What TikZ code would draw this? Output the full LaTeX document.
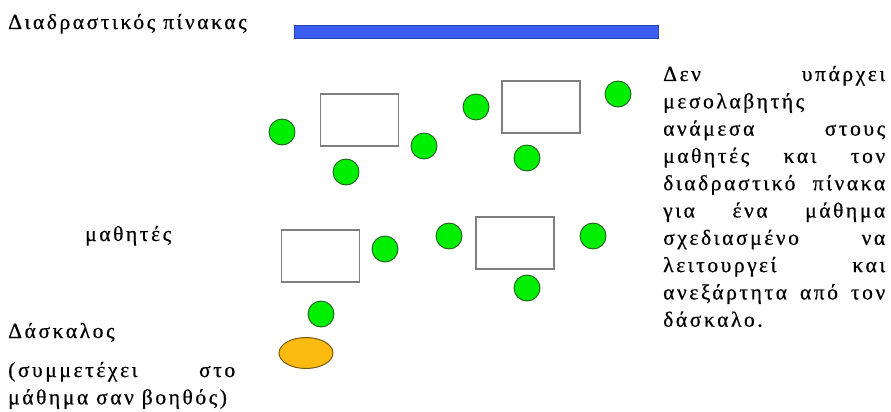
\documentclass[tikz,border=0pt]{standalone}
\usepackage{fontspec}
\setmainfont{Liberation Serif}[LetterSpace=12,FakeBold=0.6]
\usetikzlibrary{shapes.geometric}
\definecolor{CRBoard}{HTML}{3C5CF0}
\definecolor{CRBoardEdge}{HTML}{2A42B0}
\definecolor{CRPupil}{HTML}{00EE00}
\definecolor{CRPupilEdge}{HTML}{1F5F1F}
\definecolor{CRTeacher}{HTML}{FBBA10}
\definecolor{CRTeacherEdge}{HTML}{7A5A10}
\definecolor{CRDesk}{HTML}{7F7F7F}
\definecolor{CRInk}{HTML}{000000}
\tikzset{
  pupil/.style={circle,draw=CRPupilEdge,line width=0.9pt,fill=CRPupil,
                minimum size=26pt,inner sep=0pt},
  desk/.style={draw=CRDesk,line width=1.4pt,fill=white,minimum width=78pt,
               minimum height=52pt,inner sep=0pt},
  teacher/.style={ellipse,draw=CRTeacherEdge,line width=1.0pt,fill=CRTeacher,
                  minimum width=54pt,minimum height=31pt,inner sep=0pt},
  board/.style={draw=CRBoardEdge,line width=0.8pt,fill=CRBoard,
                minimum width=364pt,minimum height=13pt,inner sep=0pt},
  caption/.style={text=CRInk,font=\fontsize{21.5}{27.3}\selectfont,
                  inner sep=0pt,anchor=base west},
}

\begin{document}
\begin{tikzpicture}[x=1pt,y=-1pt]
    \useasboundingbox (0,0) rectangle (891,412);
    % whiteboard
    \node[board] (wb) at (476,32) {};
    \node[caption] (wblabel) at (8,29) {Διαδραστικός πίνακας};
    % desks
    \node[desk] (desk1) at (359.5,120) {};
    \node[desk] (desk2) at (541,107) {};
    \node[desk] (desk3) at (320.5,256) {};
    \node[desk] (desk4) at (515,243) {};
    % pupils
    \node[pupil] (p1) at (282,132) {};
    \node[pupil] (p2) at (346,172) {};
    \node[pupil] (p3) at (424,146) {};
    \node[pupil] (p4) at (476,107) {};
    \node[pupil] (p5) at (527,158) {};
    \node[pupil] (p6) at (618,94) {};
    \node[pupil] (p7) at (385,249) {};
    \node[pupil] (p8) at (449,236) {};
    \node[pupil] (p9) at (593,236) {};
    \node[pupil] (p10) at (527,288) {};
    \node[pupil] (p11) at (321,314) {};
    \node[caption] (pupils) at (85,241) {μαθητές};
    % teacher
    \node[teacher] (tch) at (306,353) {};
    \node[caption] (tchname) at (8,338) {Δάσκαλος};
    \node[caption] (tchrole) at (8,377) {\begin{minipage}[t]{227pt}
      \tolerance=10000\hyphenpenalty=10000\parindent=0pt
      (συμμετέχει στο\linebreak μάθημα σαν βοηθός)
    \end{minipage}};
    % note
    \node[caption] (note) at (663,81) {\begin{minipage}[t]{222pt}
      \tolerance=10000\hyphenpenalty=10000\parindent=0pt
      Δεν υπάρχει\linebreak μεσολαβητής\linebreak ανάμεσα στους\linebreak
      μαθητές και τον\linebreak διαδραστικό πίνακα\linebreak
      για ένα μάθημα\linebreak σχεδιασμένο να\linebreak
      λειτουργεί και\linebreak ανεξάρτητα από τον\linebreak δάσκαλο.
    \end{minipage}};
\end{tikzpicture}
\end{document}
